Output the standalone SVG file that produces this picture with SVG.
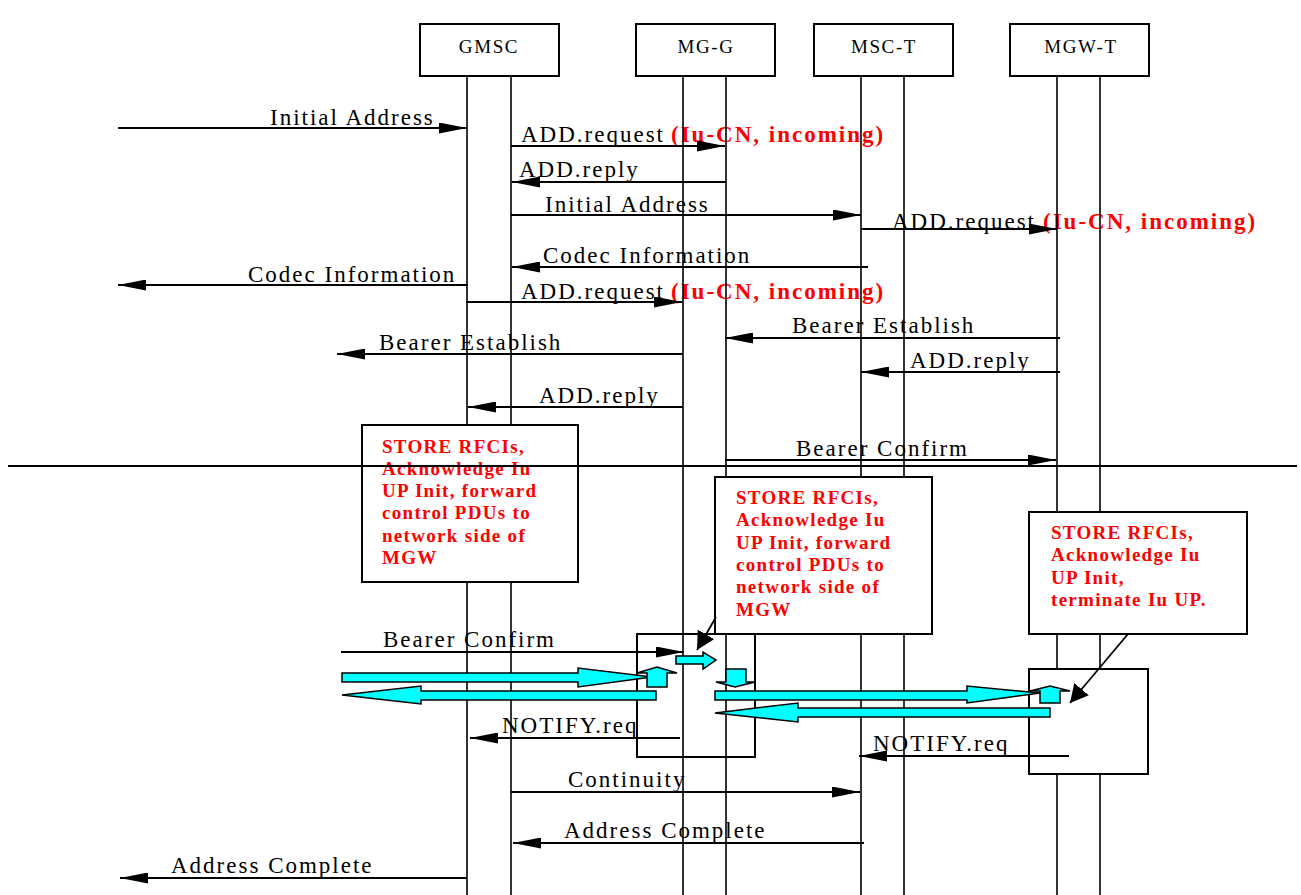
<svg xmlns="http://www.w3.org/2000/svg" width="1301" height="895" viewBox="0 0 1301 895">
<style>
.bg{fill:#ffffff}
.box{fill:#ffffff;stroke:#000;stroke-width:2}
.hd{font-family:"Liberation Serif",serif;font-size:19px;letter-spacing:1.6px;fill:#000;text-anchor:middle}
.t{font-family:"Liberation Serif",serif;font-size:23px;letter-spacing:2px;fill:#000}
.r{font-family:"Liberation Serif",serif;font-size:23px;letter-spacing:2px;fill:#ff0000;font-weight:bold}
.note{font-family:"Liberation Serif",serif;font-size:19px;letter-spacing:1.3px;fill:#ff0000;font-weight:bold}
.life{stroke:#000;stroke-width:1.6;fill:none}
.msg{stroke:#000;stroke-width:2;fill:none;marker-end:url(#ah)}
.pt{stroke:#000;stroke-width:1.8;fill:none;marker-end:url(#ah2)}
.cy{fill:#00ffff;stroke:#000;stroke-width:1.5;stroke-linejoin:miter}
</style>
<defs>
<marker id="ah" markerUnits="userSpaceOnUse" markerWidth="28" markerHeight="11" refX="28" refY="5.5" orient="auto">
<path d="M0,0 L28,5.5 L0,11 z" fill="#000"/>
</marker>
<marker id="ah2" markerUnits="userSpaceOnUse" markerWidth="19" markerHeight="19" refX="18" refY="9.5" orient="auto">
<path d="M0,0 L18,9.5 L0,19 z" fill="#000"/>
</marker>
</defs>
<rect class="bg" x="0" y="0" width="1301" height="895"/>

<g id="labels">
<text class="t" x="270" y="125">Initial Address</text>
<text class="t" x="521" y="142">ADD.request</text><text class="r" x="671" y="142">(Iu-CN, incoming)</text>
<text class="t" x="519" y="177">ADD.reply</text>
<text class="t" x="545" y="212">Initial Address</text>
<text class="t" x="892" y="229">ADD.request</text><text class="r" x="1043" y="229">(Iu-CN, incoming)</text>
<text class="t" x="543" y="263">Codec Information</text>
<text class="t" x="248" y="282">Codec Information</text>
<text class="t" x="521" y="299">ADD.request</text><text class="r" x="671" y="299">(Iu-CN, incoming)</text>
<text class="t" x="792" y="333">Bearer Establish</text>
<text class="t" x="379" y="350">Bearer Establish</text>
<text class="t" x="910" y="368">ADD.reply</text>
<text class="t" x="539" y="403">ADD.reply</text>
<text class="t" x="796" y="456">Bearer Confirm</text>
<text class="t" x="383" y="647">Bearer Confirm</text>
<text class="t" x="502" y="733">NOTIFY.req</text>
<text class="t" x="873" y="751">NOTIFY.req</text>
<text class="t" x="568" y="787">Continuity</text>
<text class="t" x="564" y="838">Address Complete</text>
<text class="t" x="171" y="873">Address Complete</text>
</g>

<g id="mg-g-frame">
<rect class="box" x="637" y="634" width="118" height="123"/>
</g>

<g id="lifelines">
<line class="life" x1="467" y1="76" x2="467" y2="895"/>
<line class="life" x1="511" y1="76" x2="511" y2="895"/>
<line class="life" x1="683" y1="76" x2="683" y2="895"/>
<line class="life" x1="726" y1="76" x2="726" y2="895"/>
<line class="life" x1="861" y1="76" x2="861" y2="895"/>
<line class="life" x1="904" y1="76" x2="904" y2="895"/>
<line class="life" x1="1057" y1="76" x2="1057" y2="895"/>
<line class="life" x1="1100" y1="76" x2="1100" y2="895"/>
</g>

<g id="gmsc"><rect class="box" x="420" y="24" width="139" height="52"/><text class="hd" x="489" y="53">GMSC</text></g>
<g id="mg-g"><rect class="box" x="636" y="24" width="139" height="52"/><text class="hd" x="706" y="53">MG-G</text></g>
<g id="msc-t"><rect class="box" x="814" y="24" width="139" height="52"/><text class="hd" x="884" y="53">MSC-T</text></g>
<g id="mgw-t"><rect class="box" x="1010" y="24" width="139" height="52"/><text class="hd" x="1081" y="53">MGW-T</text></g>

<g id="mgw-t-frame">
<rect class="box" x="1029" y="669" width="119" height="105"/>
</g>

<g id="note-gmsc">
<rect class="box" x="362" y="425" width="216" height="157"/>
<text class="note" x="382"><tspan x="382" y="453">STORE RFCIs,</tspan><tspan x="382" y="475">Acknowledge Iu</tspan><tspan x="382" y="497">UP Init, forward</tspan><tspan x="382" y="519">control PDUs to</tspan><tspan x="382" y="542">network side of</tspan><tspan x="382" y="564">MGW</tspan></text>
</g>
<g id="note-mgg">
<rect class="box" x="715" y="477" width="217" height="157"/>
<text class="note" x="736"><tspan x="736" y="504">STORE RFCIs,</tspan><tspan x="736" y="526">Acknowledge Iu</tspan><tspan x="736" y="549">UP Init, forward</tspan><tspan x="736" y="571">control PDUs to</tspan><tspan x="736" y="593">network side of</tspan><tspan x="736" y="616">MGW</tspan></text>
</g>
<g id="note-mgwt">
<rect class="box" x="1029" y="512" width="218" height="122"/>
<text class="note" x="1051"><tspan x="1051" y="539">STORE RFCIs,</tspan><tspan x="1051" y="561">Acknowledge Iu</tspan><tspan x="1051" y="584">UP Init,</tspan><tspan x="1051" y="606">terminate Iu UP.</tspan></text>
</g>

<g id="connectors">
<line class="msg" x1="118" y1="128" x2="467" y2="128"/>
<line class="msg" x1="511" y1="146" x2="725" y2="146"/>
<line class="msg" x1="726" y1="182" x2="512" y2="182"/>
<line class="msg" x1="511" y1="215" x2="861" y2="215"/>
<line class="msg" x1="861" y1="229" x2="1057" y2="229"/>
<line class="msg" x1="868" y1="267" x2="512" y2="267"/>
<line class="msg" x1="468" y1="285" x2="118" y2="285"/>
<line class="msg" x1="466" y1="302" x2="682" y2="302"/>
<line class="msg" x1="1060" y1="338" x2="725" y2="338"/>
<line class="msg" x1="683" y1="354" x2="337" y2="354"/>
<line class="msg" x1="1060" y1="372" x2="861" y2="372"/>
<line class="msg" x1="683" y1="407" x2="468" y2="407"/>
<line class="msg" x1="725" y1="460" x2="1056" y2="460"/>
<line class="msg" x1="341" y1="652" x2="684" y2="652"/>
<line class="msg" x1="680" y1="738" x2="470" y2="738"/>
<line class="msg" x1="1069" y1="756" x2="859" y2="756"/>
<line class="msg" x1="511" y1="792" x2="860" y2="792"/>
<line class="msg" x1="864" y1="843" x2="513" y2="843"/>
<line class="msg" x1="467" y1="878" x2="120" y2="878"/>
<line class="pt" x1="716" y1="617" x2="697" y2="650"/>
<line class="pt" x1="1128" y1="634" x2="1070" y2="703"/>
</g>

<g id="divider">
<line x1="8" y1="466" x2="1297" y2="466" stroke="#000" stroke-width="2"/>
</g>

<g id="user-plane">
<polygon class="cy" points="676,656 703,656 703,652 716,660 703,669 703,664 676,664"/>
<polygon class="cy" points="342,673 578,673 578,668 652,677 578,687 578,682 342,682"/>
<polygon class="cy" points="647,687 647,673 637,673 657,667 677,673 667,673 667,687"/>
<polygon class="cy" points="726,669 746,669 746,682 755,682 735,687 716,682 726,682"/>
<polygon class="cy" points="656,691 421,691 421,686 342,695 421,704 421,700 656,700"/>
<polygon class="cy" points="715,691 967,691 967,686 1040,693 967,703 967,700 715,700"/>
<polygon class="cy" points="1040,703 1040,691 1030,691 1050,686 1070,691 1060,691 1060,703"/>
<polygon class="cy" points="1050,708 798,708 798,703 715,713 798,722 798,717 1050,717"/>
</g>
</svg>
